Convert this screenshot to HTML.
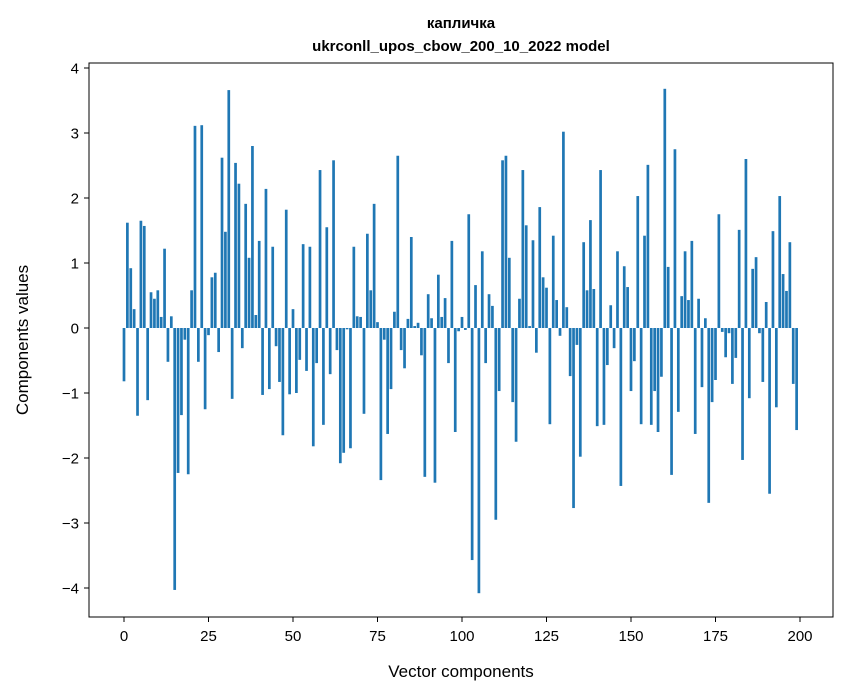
<!DOCTYPE html>
<html><head><meta charset="utf-8"><style>
body{margin:0;background:#fff;}
svg{display:block;font-family:"Liberation Sans","DejaVu Sans",sans-serif;}
</style></head><body>
<svg id="chart" width="847" height="696" viewBox="0 0 847 696" xmlns="http://www.w3.org/2000/svg">
<rect width="847" height="696" fill="#fff"/>
<text x="461" y="28" text-anchor="middle" font-size="15" font-weight="bold">капличка</text>
<text x="461" y="51" text-anchor="middle" font-size="15" font-weight="bold">ukrconll_upos_cbow_200_10_2022 model</text>
<g id="bars"></g>
<g id="xaxis"></g>
<g id="yaxis"></g>
<rect x="89" y="63" width="744" height="554" fill="none" stroke="#000" stroke-width="1"/>
<text x="461" y="677" text-anchor="middle" font-size="17">Vector components</text>
<text transform="translate(28,340) rotate(-90)" text-anchor="middle" font-size="17">Components values</text>
</svg>
<script>
const values = [
-0.82,1.62,0.92,0.29,-1.35,1.65,1.57,-1.11,0.55,0.45,
0.58,0.17,1.22,-0.52,0.18,-4.03,-2.23,-1.34,-0.18,-2.25,
0.58,3.11,-0.52,3.12,-1.25,-0.11,0.78,0.85,-0.37,2.62,
1.48,3.66,-1.09,2.54,2.22,-0.31,1.91,1.08,2.8,0.2,
1.34,-1.03,2.14,-0.94,1.25,-0.28,-0.83,-1.65,1.82,-1.02,
0.29,-1.0,-0.49,1.29,-0.66,1.25,-1.82,-0.54,2.43,-1.49,
1.55,-0.71,2.58,-0.34,-2.08,-1.92,-0.02,-1.85,1.25,0.18,
0.17,-1.32,1.45,0.58,1.91,0.09,-2.34,-0.18,-1.63,-0.94,
0.25,2.65,-0.34,-0.62,0.14,1.4,0.03,0.08,-0.42,-2.29,
0.52,0.15,-2.38,0.82,0.17,0.46,-0.54,1.34,-1.6,-0.05,
0.17,-0.03,1.75,-3.57,0.66,-4.08,1.18,-0.54,0.52,0.34,
-2.95,-0.97,2.58,2.65,1.08,-1.14,-1.75,0.45,2.43,1.58,
0.03,1.35,-0.38,1.86,0.78,0.62,-1.48,1.42,0.43,-0.12,
3.02,0.32,-0.74,-2.77,-0.26,-1.98,1.32,0.58,1.66,0.6,
-1.51,2.43,-1.49,-0.57,0.35,-0.31,1.18,-2.43,0.95,0.63,
-0.97,-0.51,2.03,-1.48,1.42,2.51,-1.49,-0.97,-1.6,-0.75,
3.68,0.94,-2.26,2.75,-1.29,0.49,1.18,0.43,1.34,-1.63,
0.45,-0.91,0.15,-2.69,-1.14,-0.8,1.75,-0.06,-0.45,-0.08,
-0.86,-0.46,1.51,-2.03,2.6,-1.08,0.91,1.09,-0.08,-0.83,
0.4,-2.55,1.49,-1.22,2.03,0.83,0.57,1.32,-0.86,-1.57
];
const xTicks = [0,25,50,75,100,125,150,175,200];
const yTicks = [-4,-3,-2,-1,0,1,2,3,4];
const NS = "http://www.w3.org/2000/svg";
const X0=124, XS=3.38, Y0=328, YS=65;
function xs(v){return X0+XS*v;}
function ys(v){return Y0-YS*v;}
const bars=document.getElementById('bars');
values.forEach((v,i)=>{
  const r=document.createElementNS(NS,'rect');
  const w=0.8*XS;
  r.setAttribute('x',xs(i)-w/2);
  r.setAttribute('width',w);
  r.setAttribute('y',Math.min(ys(v),ys(0)));
  r.setAttribute('height',Math.abs(ys(v)-ys(0)));
  r.setAttribute('fill','#1f77b4');
  
  
  bars.appendChild(r);
});
const xa=document.getElementById('xaxis');
xTicks.forEach(t=>{
  const l=document.createElementNS(NS,'line');
  l.setAttribute('x1',xs(t));l.setAttribute('x2',xs(t));
  l.setAttribute('y1',617);l.setAttribute('y2',622);
  l.setAttribute('stroke','#000');
  
  
  xa.appendChild(l);
  const tx=document.createElementNS(NS,'text');
  tx.setAttribute('x',xs(t));tx.setAttribute('y',641);
  tx.setAttribute('text-anchor','middle');tx.setAttribute('font-size','15');
  tx.textContent=t;
  
  
  xa.appendChild(tx);
});
const ya=document.getElementById('yaxis');
yTicks.forEach(t=>{
  const l=document.createElementNS(NS,'line');
  l.setAttribute('x1',84);l.setAttribute('x2',89);
  l.setAttribute('y1',ys(t));l.setAttribute('y2',ys(t));
  l.setAttribute('stroke','#000');
  
  
  ya.appendChild(l);
  const tx=document.createElementNS(NS,'text');
  tx.setAttribute('x',79);tx.setAttribute('y',ys(t)+5.5);
  tx.setAttribute('text-anchor','end');tx.setAttribute('font-size','15');
  tx.textContent=(t<0?'\u2212'+(-t):String(t));
  
  
  ya.appendChild(tx);
});
</script>
</body></html>
